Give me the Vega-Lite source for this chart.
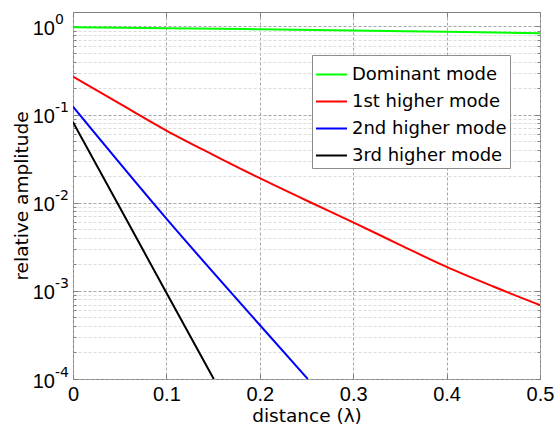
{
  "$schema": "https://vega.github.io/schema/vega-lite/v6.json",
  "width": 467,
  "height": 367,
  "autosize": {"type": "none"},
  "padding": {"left": 73, "top": 12, "right": 17, "bottom": 46},
  "background": "white",
  "config": {
    "font": "Liberation Sans",
    "view": {"stroke": "#7f7f7f", "strokeWidth": 1},
    "axis": {"labelFont": "Liberation Sans", "titleFont": "DejaVu Sans", "labelColor": "#000", "titleColor": "#000", "labelFontSize": 20, "titleFontSize": 18.5, "titleFontWeight": "normal", "domainColor": "#7f7f7f", "tickColor": "#7f7f7f", "labelFlush": false, "labelOverlap": false}
  },
  "datasets": {
    "curves": [
      {"mode": "Dominant mode", "distance": 0, "amplitude": 0.98},
      {"mode": "Dominant mode", "distance": 0.1, "amplitude": 0.955},
      {"mode": "Dominant mode", "distance": 0.2, "amplitude": 0.93},
      {"mode": "Dominant mode", "distance": 0.3, "amplitude": 0.9},
      {"mode": "Dominant mode", "distance": 0.4, "amplitude": 0.87},
      {"mode": "Dominant mode", "distance": 0.5, "amplitude": 0.84},
      {"mode": "1st higher mode", "distance": 0, "amplitude": 0.27},
      {"mode": "1st higher mode", "distance": 0.05, "amplitude": 0.133},
      {"mode": "1st higher mode", "distance": 0.1, "amplitude": 0.066},
      {"mode": "1st higher mode", "distance": 0.15, "amplitude": 0.035},
      {"mode": "1st higher mode", "distance": 0.2, "amplitude": 0.019},
      {"mode": "1st higher mode", "distance": 0.25, "amplitude": 0.0106},
      {"mode": "1st higher mode", "distance": 0.3, "amplitude": 0.006},
      {"mode": "1st higher mode", "distance": 0.35, "amplitude": 0.00333},
      {"mode": "1st higher mode", "distance": 0.4, "amplitude": 0.00187},
      {"mode": "1st higher mode", "distance": 0.45, "amplitude": 0.00112},
      {"mode": "1st higher mode", "distance": 0.5, "amplitude": 0.00069},
      {"mode": "2nd higher mode", "distance": 0, "amplitude": 0.123},
      {"mode": "2nd higher mode", "distance": 0.1, "amplitude": 0.0066},
      {"mode": "2nd higher mode", "distance": 0.2, "amplitude": 0.00041},
      {"mode": "2nd higher mode", "distance": 0.2514, "amplitude": 0.0001},
      {"mode": "3rd higher mode", "distance": 0, "amplitude": 0.082},
      {"mode": "3rd higher mode", "distance": 0.05, "amplitude": 0.0089},
      {"mode": "3rd higher mode", "distance": 0.1, "amplitude": 0.00095},
      {"mode": "3rd higher mode", "distance": 0.1507, "amplitude": 0.0001}
    ]
  },
  "data": {"name": "curves"},
  "layer": [
    {
      "mark": {"type": "line", "strokeWidth": 2, "clip": true, "interpolate": "monotone"},
      "encoding": {
        "x": {
          "field": "distance", "type": "quantitative",
          "scale": {"domain": [0, 0.5], "nice": false, "zero": false},
          "axis": {
            "title": "distance (λ)", "values": [0, 0.1, 0.2, 0.3, 0.4, 0.5], "format": "~g",
            "grid": true, "gridColor": "#a6a6a6", "gridDash": [3, 2], "gridWidth": 1,
            "tickSize": -5, "labelPadding": 20, "labelBaseline": "middle", "domain": false,
            "titleBaseline": "alphabetic", "titleY": 42, "titleX": 233.5
          }
        },
        "y": {
          "field": "amplitude", "type": "quantitative",
          "scale": {"type": "log", "domain": [0.0001, 1.46], "nice": false},
          "axis": {
            "title": "relative amplitude",
            "values": [0.0001, 0.0002, 0.0003, 0.0004, 0.0005, 0.0006, 0.0007, 0.0008, 0.0009, 0.001, 0.002, 0.003, 0.004, 0.005, 0.006, 0.007, 0.008, 0.009, 0.01, 0.02, 0.03, 0.04, 0.05, 0.06, 0.07, 0.08, 0.09, 0.1, 0.2, 0.3, 0.4, 0.5, 0.6, 0.7, 0.8, 0.9, 1],
            "labelExpr": "abs(log(datum.value)/LN10 - round(log(datum.value)/LN10)) < 0.001 ? '10' : ''",
            "grid": true,
            "gridColor": {"condition": {"test": "abs(log(datum.value)/LN10 - round(log(datum.value)/LN10)) < 0.001", "value": "#a6a6a6"}, "value": "#dcdcdc"},
            "gridDash": [3, 2], "gridWidth": 1,
            "tickSize": {"condition": {"test": "abs(log(datum.value)/LN10 - round(log(datum.value)/LN10)) < 0.001", "value": -5}, "value": -3},
            "labelPadding": 23.5, "domain": false, "labelBaseline": "middle", "labelOffset": 2,
            "titleBaseline": "alphabetic", "titleX": -46, "titleY": 183.5, "titleAngle": -90
          }
        },
        "color": {
          "field": "mode", "type": "nominal",
          "scale": {"domain": ["Dominant mode", "1st higher mode", "2nd higher mode", "3rd higher mode"], "range": ["#00ff00", "#ff0000", "#0000ff", "#000000"]},
          "legend": {
            "title": null, "orient": "none", "legendX": 239, "legendY": 43,
            "symbolType": "stroke", "symbolSize": 961, "symbolStrokeWidth": 2,
            "labelFontSize": 18, "labelFont": "DejaVu Sans", "labelColor": "#000", "labelOffset": 4,
            "fillColor": "white", "strokeColor": "#8c8c8c", "padding": 3, "rowPadding": 1, "labelLimit": 300
          }
        }
      }
    },
    {
      "mark": {"type": "line", "opacity": 0},
      "encoding": {
        "x": {
          "field": "distance", "type": "quantitative",
          "scale": {"domain": [0, 0.5], "nice": false, "zero": false},
          "axis": {"orient": "top", "title": null, "labels": false, "grid": false, "domain": false, "values": [0, 0.1, 0.2, 0.3, 0.4, 0.5], "tickSize": -5}
        },
        "y": {
          "field": "amplitude", "type": "quantitative",
          "scale": {"type": "log", "domain": [0.0001, 1.46], "nice": false},
          "axis": {
            "orient": "right", "title": null, "labels": false, "grid": false, "domain": false,
            "values": [0.0001, 0.0002, 0.0003, 0.0004, 0.0005, 0.0006, 0.0007, 0.0008, 0.0009, 0.001, 0.002, 0.003, 0.004, 0.005, 0.006, 0.007, 0.008, 0.009, 0.01, 0.02, 0.03, 0.04, 0.05, 0.06, 0.07, 0.08, 0.09, 0.1, 0.2, 0.3, 0.4, 0.5, 0.6, 0.7, 0.8, 0.9, 1],
            "tickSize": {"condition": {"test": "abs(log(datum.value)/LN10 - round(log(datum.value)/LN10)) < 0.001", "value": -5}, "value": -3}
          }
        },
        "detail": {"field": "mode"}
      }
    },
    {
      "mark": {"type": "line", "opacity": 0},
      "encoding": {
        "x": {
          "field": "distance", "type": "quantitative",
          "scale": {"domain": [0, 0.5], "nice": false, "zero": false},
          "axis": null
        },
        "y": {
          "field": "amplitude", "type": "quantitative",
          "scale": {"type": "log", "domain": [0.0001, 1.46], "nice": false},
          "axis": {
            "orient": "left", "title": null, "grid": false, "domain": false,
            "values": [0.0001, 0.001, 0.01, 0.1, 1],
            "labelExpr": "'' + round(log(datum.value)/LN10)",
            "labelFont": "DejaVu Sans", "labelFontSize": 14, "labelAlign": "left", "labelBaseline": "middle", "labelOffset": -7,
            "ticks": true, "tickSize": 0, "tickOpacity": 0, "labelPadding": 18.5
          }
        },
        "detail": {"field": "mode"}
      }
    }
  ],
  "resolve": {"axis": {"x": "independent", "y": "independent"}}
}
